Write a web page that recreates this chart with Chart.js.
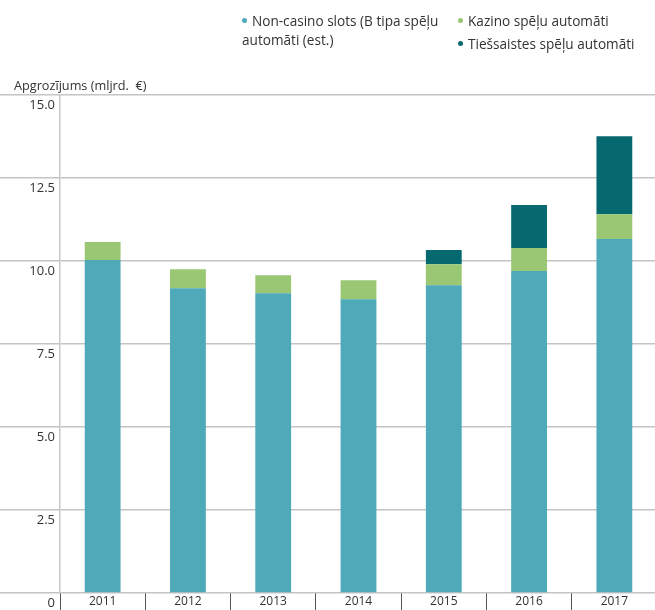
<!DOCTYPE html>
<html>
<head>
<meta charset="utf-8">
<script src="https://cdn.jsdelivr.net/npm/chart.js@4.4.1/dist/chart.umd.min.js"></script>
<style>
  html, body { margin: 0; padding: 0; background: #fff; overflow: hidden; }
  body { font-family: "Open Sans", sans-serif; color: #333; }
  #wrap { position: relative; width: 655px; height: 610px; overflow: hidden; }
  #wrap canvas { position: absolute; left: 0; top: 0; }
  .title { position: absolute; left: 14px; top: 76px; font-size: 12.7px; color: #333; }
  .leg { position: absolute; font-size: 13.6px; line-height: 19px; color: #333; }
  .leg .dot { display: inline-block; width: 5px; height: 5px; border-radius: 50%; margin-right: 5px; vertical-align: middle; position: relative; top: -2px; }
</style>
</head>
<body>
<div id="wrap">
  <canvas id="grafico" width="657" height="610"></canvas>
  <div class="title">Apgrozījums (mljrd.&nbsp; €)</div>
  <div id="legenda"></div>
</div>
<script>
// dados
const anos = ['2011', '2012', '2013', '2014', '2015', '2016', '2017'];
const nomesSeries = ['Non-casino slots (B tipa spēļu automāti (est.)', 'Kazino spēļu automāti', 'Tiešsaistes spēļu automāti'];
const naoCasino = [10.03, 9.18, 9.03, 8.85, 9.27, 9.70, 10.66];
const kazino = [0.54, 0.57, 0.54, 0.57, 0.63, 0.69, 0.75];
const tiessaistes = [0, 0, 0, 0, 0.43, 1.30, 2.35];
const cores = ['#4EA9B8', '#9AC773', '#076970'];
const ticksY = [0, 2.5, 5, 7.5, 10, 12.5, 15];

/* --- LEGENDA --- */
const posLegenda = [
    { left: 242, top: 11, width: 215 },
    { left: 458, top: 11, width: 195 },
    { left: 458, top: 34, width: 195 }
];
const legenda = document.getElementById('legenda');
nomesSeries.forEach((nome, i) => {
    const d = document.createElement('div');
    d.className = 'leg';
    const p = posLegenda[i];
    d.style.left = p.left + 'px';
    d.style.top = p.top + 'px';
    d.style.width = p.width + 'px';
    d.innerHTML = `<span class="dot" style="background:${cores[i]}"></span>${nome}`;
    legenda.appendChild(d);
});

/* --- GRÁFICO --- */
const datasets = [naoCasino, kazino, tiessaistes].map((valores, i) => ({
    label: nomesSeries[i],
    data: valores,
    backgroundColor: cores[i],
    borderWidth: 0,
    barPercentage: 0.42,
    categoryPercentage: 1
}));

new Chart(document.getElementById('grafico'), {
    type: 'bar',
    data: { labels: anos, datasets: datasets },
    options: {
        responsive: false,
        animation: false,
        layout: { padding: { top: 95, left: 0, right: 0, bottom: 0 } },
        plugins: { legend: { display: false }, tooltip: { enabled: false } },
        scales: {
            x: {
                stacked: true,
                offset: true,
                border: { display: false },
                grid: {
                    offset: true,
                    drawOnChartArea: false,
                    drawTicks: true,
                    tickLength: 17,
                    color: '#555',
                    lineWidth: 1
                },
                ticks: {
                    padding: -16,
                    color: '#333',
                    font: { family: 'Open Sans', size: 12 }
                },
                afterFit: (s) => { s.height = 17; }
            },
            y: {
                stacked: true,
                min: 0,
                max: 15,
                afterBuildTicks: (s) => { s.ticks = ticksY.map(v => ({ value: v })); },
                border: { display: true, color: '#c8c8c8', width: 1.5 },
                grid: {
                    color: '#c4c4c4',
                    lineWidth: 1.5,
                    drawTicks: true,
                    tickLength: 60
                },
                ticks: {
                    padding: -55,
                    labelOffset: 10,
                    color: '#333',
                    font: { family: 'Open Sans', size: 13 },
                    callback: (v) => v === 0 ? '0' : Number(v).toFixed(1)
                },
                afterFit: (s) => { s.width = 60; }
            }
        }
    }
});
</script>
</body>
</html>
